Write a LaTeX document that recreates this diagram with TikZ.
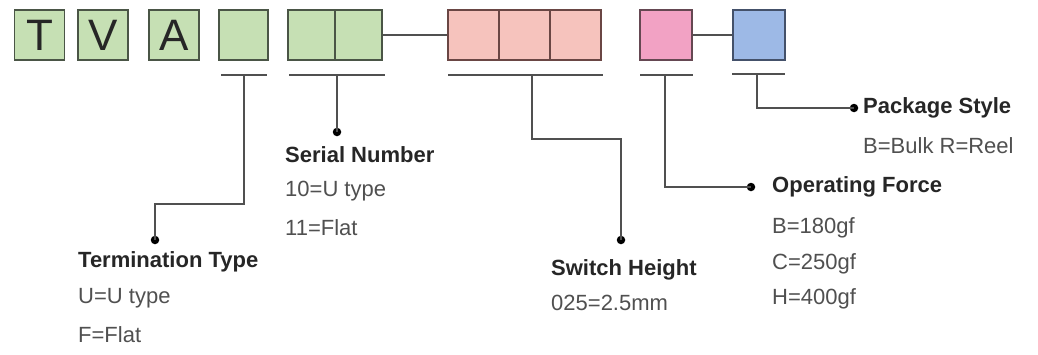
\documentclass[tikz,border=0pt]{standalone}
\usepackage{fontspec}
\setmainfont{Liberation Sans}
\definecolor{gfill}{HTML}{C6E0B4}
\definecolor{gline}{HTML}{4A5546}
\definecolor{pfill}{HTML}{F6C3BD}
\definecolor{pline}{HTML}{6A4644}
\definecolor{mfill}{HTML}{F2A2C4}
\definecolor{mline}{HTML}{654852}
\definecolor{bfill}{HTML}{9DB9E6}
\definecolor{bline}{HTML}{44516A}
\definecolor{wire}{HTML}{505050}
\definecolor{head}{HTML}{262626}
\definecolor{val}{HTML}{505050}
\begin{document}
\begin{tikzpicture}[x=1pt,y=-1pt,
  cell/.style={draw=#1line, fill=#1fill, line width=1.8pt, minimum height=50pt, inner sep=0pt,
    font=\fontsize{44}{44}\selectfont, text=head},
  wireline/.style={draw=wire, line width=2pt},
  dot/.style={circle, fill=black, inner sep=0pt, minimum size=8.5pt},
  heading/.style={anchor=west, inner sep=0pt, font=\fontsize{22}{24}\selectfont\bfseries, text=head},
  value/.style={anchor=west, inner sep=0pt, font=\fontsize{22}{24}\selectfont, text=val}]
\useasboundingbox (0,0) rectangle (1038,354);
\fill[white] (0,0) rectangle (1038,354);
% boxes
\node[cell=g, minimum width=50pt] (t) at (39.5,35) {T};
\node[cell=g, minimum width=50pt] (v) at (103,35) {V};
\node[cell=g, minimum width=50pt] (a) at (174,35) {A};
\node[cell=g, minimum width=49pt] (c4) at (243.5,35) {};
\node[cell=g, minimum width=47pt] (s1) at (311.5,35) {};
\node[cell=g, minimum width=47pt] (s2) at (358.5,35) {};
\node[cell=p, minimum width=51pt] (h1) at (473.5,35) {};
\node[cell=p, minimum width=51pt] (h2) at (524.5,35) {};
\node[cell=p, minimum width=51pt] (h3) at (575.5,35) {};
\node[cell=m, minimum width=52pt] (f) at (666,35) {};
\node[cell=b, minimum width=52pt] (p) at (759,35) {};
% links between boxes
\draw[wireline] (s2.east) -- (h1.west);
\draw[wireline] (f.east) -- (p.west);
% underlines
\coordinate (u1a) at (221,75); \coordinate (u1b) at (267,75);
\coordinate (u2a) at (289,75); \coordinate (u2b) at (385,75);
\coordinate (u3a) at (448,75); \coordinate (u3b) at (603,75);
\coordinate (u4a) at (640,75); \coordinate (u4b) at (693,75);
\coordinate (u5a) at (732,74); \coordinate (u5b) at (785,74);
\foreach \i in {1,...,5} \draw[wireline] (u\i a) -- (u\i b);
% dots
\node[dot] (d1) at (155,240) {};
\node[dot] (d2) at (337,132) {};
\node[dot] (d3) at (621,240) {};
\node[dot] (d4) at (751,187) {};
\node[dot] (d5) at (854,108) {};
% leaders
\draw[wireline] (244,75) |- (155,204) -- (d1.center);
\draw[wireline] (337,75) -- (d2.center);
\draw[wireline] (532,75) |- (621,139) -- (d3.center);
\draw[wireline] (665,75) |- (d4.center);
\draw[wireline] (757,74) |- (d5.center);
% texts
\node[heading] (tt) at (78,262) {Termination Type};
\node[value] (tt1) at (78,298) {U=U type};
\node[value] (tt2) at (78,335) {F=Flat};
\node[heading] (sn) at (285,155) {Serial Number};
\node[value] (sn1) at (285,191) {10=U type};
\node[value] (sn2) at (285,228) {11=Flat};
\node[heading] (sh) at (551,270) {Switch Height};
\node[value] (sh1) at (551,303) {025=2.5mm};
\node[heading] (of) at (772,187) {Operating Force};
\node[value] (of1) at (772,228) {B=180gf};
\node[value] (of2) at (772,264) {C=250gf};
\node[value] (of3) at (772,299) {H=400gf};
\node[heading] (ps) at (863,108) {Package Style};
\node[value] (ps1) at (863,146) {B=Bulk R=Reel};
\end{tikzpicture}
\end{document}
